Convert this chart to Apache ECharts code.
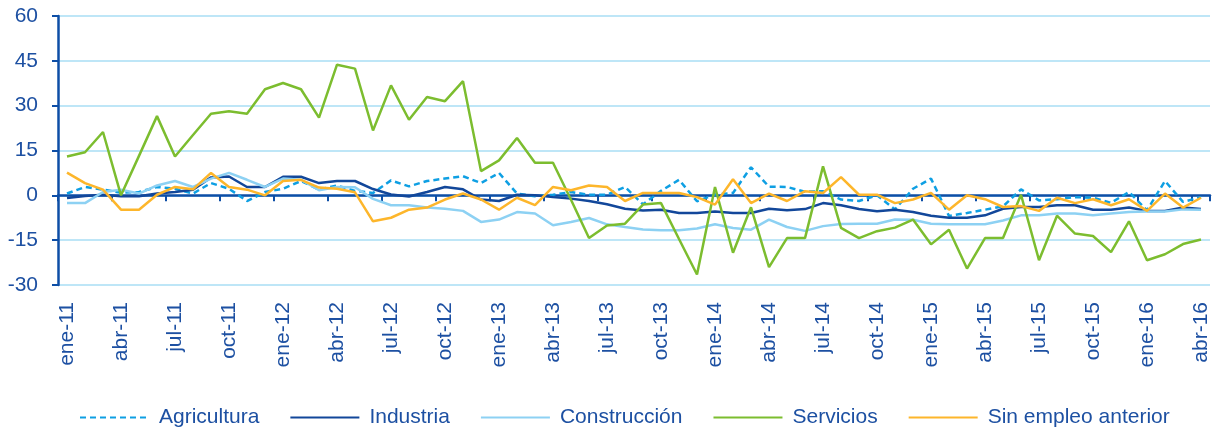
<!DOCTYPE html>
<html>
<head>
<meta charset="utf-8">
<script src="https://cdn.jsdelivr.net/npm/echarts@6/dist/echarts.min.js"></script>
<style>
  html, body { margin: 0; padding: 0; background: #fff; }
  #chart { width: 1221px; height: 432px; }
</style>
</head>
<body>
<div id="chart"></div>
<script>
// Meses ene-11 .. abr-16
const meses = ["ene", "feb", "mar", "abr", "may", "jun", "jul", "ago", "sep", "oct", "nov", "dic"];
const categorias = [];
for (let a = 11; a <= 16; a++) {
  for (let m = 0; m < 12; m++) {
    if (a === 16 && m > 3) break;
    categorias.push(meses[m] + "-" + a);
  }
}

// Valores (variacion %)
const agricultura = [
  0.6, 2.8, 1.9, 0.9, 1.1, 2.8, 2.2, 0.6, 4.1, 2.2, -1.9, 1.1, 2.2, 4.8, 1.9, 3.3,
  1.5, 0.8, 5.0, 3.0, 4.8, 5.6, 6.4, 4.1, 7.5, 0.6, -0.3, 0.2, 1.1, 0.2, 0.2, 2.8,
  -3.0, 1.5, 5.2, -2.0, 0.3, 0.8, 9.4, 2.9, 2.8, 1.2, 1.4, -1.4, -1.9, 0.0, -4.7, 2.2,
  5.6, -6.9, -5.9, -4.8, -3.7, 2.0, -1.7, -1.3, -0.6, -0.8, -2.5, 1.1, -5.0, 4.8, -2.2, -0.6
];
const industria = [
  -0.9, -0.2, 0.2, -0.3, -0.3, 0.6, 1.1, 1.9, 6.0, 6.3, 2.8, 2.8, 6.2, 6.2, 4.1, 4.8,
  4.8, 2.1, 0.3, -0.4, 1.1, 2.8, 2.0, -1.4, -1.9, 0.2, 0.0, -0.6, -1.1, -1.9, -3.0, -4.5,
  -5.1, -4.8, -5.9, -5.9, -5.4, -5.9, -5.9, -4.5, -5.0, -4.6, -2.6, -3.3, -4.6, -5.3, -4.8, -5.6,
  -6.8, -7.5, -7.5, -6.7, -4.5, -3.9, -3.9, -3.3, -3.3, -4.8, -4.8, -4.1, -5.2, -5.2, -4.1, -4.6
];
const construccion = [
  -2.6, -2.6, 1.1, 1.9, 0.6, 3.3, 4.8, 2.8, 5.6, 7.5, 5.2, 2.8, 5.6, 5.2, 1.7, 2.8,
  2.7, -1.2, -3.3, -3.3, -4.1, -4.5, -5.2, -8.9, -8.1, -5.6, -6.1, -10.0, -8.9, -7.6, -9.7, -10.6,
  -11.4, -11.7, -11.7, -11.1, -9.7, -10.9, -11.5, -8.1, -10.6, -11.9, -10.3, -9.6, -9.5, -9.5, -8.1, -8.2,
  -9.5, -9.7, -9.7, -9.7, -8.4, -6.7, -6.7, -6.1, -6.1, -6.7, -6.1, -5.6, -5.4, -5.4, -4.7, -4.8
];
const servicios = [
  13.0, 14.4, 21.2, 0.0, 13.2, 26.5, 13.0, 20.2, 27.3, 28.1, 27.3, 35.5, 37.6, 35.5, 26.0, 43.7,
  42.4, 21.7, 36.8, 25.3, 32.9, 31.5, 38.2, 8.1, 11.7, 19.2, 10.9, 10.9, -1.5, -14.3, -10.1, -9.5,
  -3.1, -2.6, -14.6, -26.5, 2.8, -19.2, -4.0, -24.0, -14.3, -14.3, 9.7, -10.9, -14.3, -12.0, -10.8, -8.1,
  -16.4, -11.5, -24.5, -14.3, -14.3, 0.2, -21.7, -6.8, -12.8, -13.6, -19.0, -8.7, -21.7, -19.7, -16.3, -14.8
];
const sinEmpleo = [
  7.6, 4.1, 1.9, -4.8, -4.8, 0.2, 2.8, 2.0, 7.5, 2.8, 1.9, 0.0, 4.8, 5.2, 2.6, 2.2,
  1.0, -8.7, -7.5, -4.8, -4.1, -1.4, 0.6, -1.4, -4.8, -0.8, -3.3, 2.8, 1.7, 3.3, 2.8, -1.9,
  0.8, 0.8, 0.8, -0.6, -3.1, 5.4, -2.6, 0.6, -1.9, 1.4, 0.8, 6.1, 0.2, 0.2, -2.6, -1.4,
  0.8, -4.8, 0.0, -1.3, -3.9, -3.6, -5.2, -0.8, -2.6, -1.3, -3.3, -1.3, -5.2, 0.6, -4.1, -0.8
];

const nombres = ["Agricultura", "Industria", "Construcción", "Servicios", "Sin empleo anterior"];
const valores = [agricultura, industria, construccion, servicios, sinEmpleo];
const colores = ["#0E9FE3", "#12479A", "#8DD1F3", "#7CBD2F", "#FDB62B"];

const azulTexto = "#1D50A2";
const azulEje = "#0D4EA6";
const fuente = "Liberation Sans, Arial, sans-serif";

const chart = echarts.init(document.getElementById("chart"));

const option = {
  animation: false,
  grid: { left: 58, right: 11, top: 16, bottom: 147, containLabel: false },
  legend: {
    left: 79,
    top: 407,
    padding: 0,
    itemWidth: 69,
    itemHeight: 24,
    itemGap: 30,
    // solo la linea, sin el simbolo
    itemStyle: { opacity: 0 },
    textStyle: { fontSize: 21, color: azulTexto, fontFamily: fuente, padding: [0, 0, 0, 5] },
    data: nombres
  },
  xAxis: [
    {
      // eje en el cero: linea y marcas
      type: "category",
      data: categorias,
      boundaryGap: true,
      position: "bottom",
      axisLine: { onZero: true, lineStyle: { color: azulEje, width: 2.5 } },
      axisTick: { show: true, interval: 2, length: 6, lineStyle: { color: azulEje, width: 2 } },
      axisLabel: { show: false },
      splitLine: { show: false }
    },
    {
      // etiquetas abajo
      type: "category",
      data: categorias,
      boundaryGap: true,
      position: "bottom",
      axisLine: { show: false, onZero: false },
      axisTick: { show: false },
      axisLabel: {
        interval: 2, rotate: 90, margin: 17,
        fontSize: 21, color: azulTexto, fontFamily: fuente
      },
      splitLine: { show: false }
    }
  ],
  yAxis: {
    type: "value",
    min: -30,
    max: 60,
    interval: 15,
    axisLine: { show: true, lineStyle: { color: azulEje, width: 2.5 } },
    axisTick: { show: true, length: 6, lineStyle: { color: azulEje, width: 2 } },
    axisLabel: { margin: 20, fontSize: 21, color: azulTexto, fontFamily: fuente },
    splitLine: { lineStyle: { color: "#BEE6F7", width: 2 } }
  },
  series: nombres.map((n, k) => ({
    name: n,
    type: "line",
    xAxisIndex: 0,
    data: valores[k],
    symbol: "none",
    color: colores[k],
    lineStyle: {
      color: colores[k],
      width: 2.5,
      type: k === 0 ? [6, 4] : "solid"
    }
  }))
};

chart.setOption(option);
</script>
</body>
</html>
